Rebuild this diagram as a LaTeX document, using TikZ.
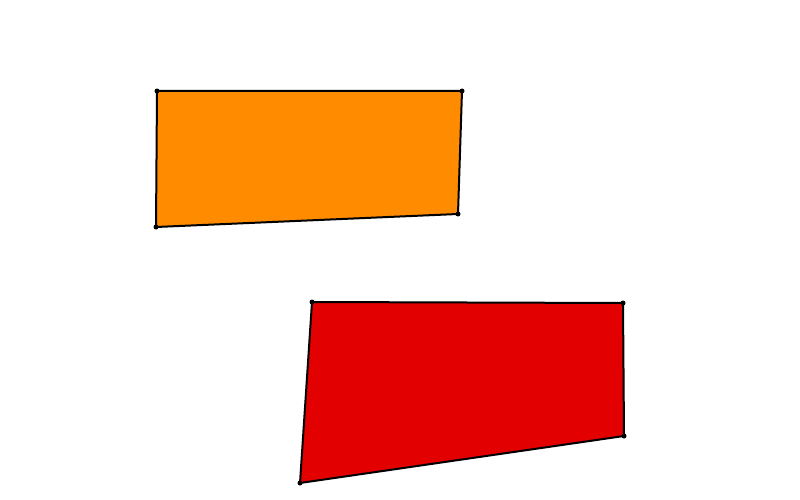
\documentclass[tikz,border=0pt]{standalone}
\begin{document}
\begin{tikzpicture}[x=1pt,y=-1pt,
  quad/.style={draw=black,line width=2pt,line join=round},
  vdot/.style={fill=black,circle,inner sep=0pt,minimum size=5pt}]
\useasboundingbox (0,0) rectangle (800,500);
\fill[white] (0,0) rectangle (800,500);
\coordinate (A) at (157,91);
\coordinate (B) at (462,91);
\coordinate (C) at (458,214);
\coordinate (D) at (156,227);
\coordinate (E) at (312,302);
\coordinate (F) at (623,303);
\coordinate (G) at (624,436);
\coordinate (H) at (300,483);
\draw[quad,fill={rgb,255:red,255;green,140;blue,0}] (A) -- (B) -- (C) -- (D) -- cycle;
\draw[quad,fill={rgb,255:red,226;green,0;blue,0}] (E) -- (F) -- (G) -- (H) -- cycle;
\foreach \p in {A,B,C,D,E,F,G,H} \node[vdot] at (\p) {};
\end{tikzpicture}
\end{document}
